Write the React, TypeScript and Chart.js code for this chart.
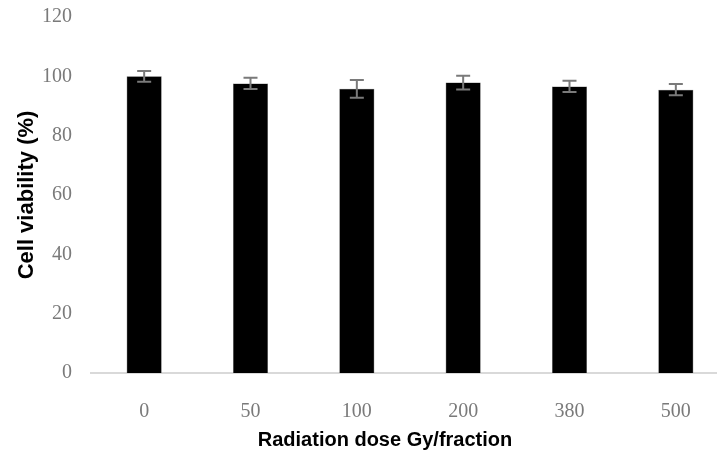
import React, { useEffect, useRef } from "react";
import { Chart, registerables } from "chart.js";

Chart.register(...registerables);

const categories = ["0", "50", "100", "200", "380", "500"];
const viability = [100, 97.6, 95.8, 97.9, 96.6, 95.5];
const errors = [1.8, 1.9, 3.0, 2.3, 1.9, 1.9];
const yTicks = [0, 20, 40, 60, 80, 100, 120];

const errorBarPlugin = {
  id: "errorBars",
  afterDatasetsDraw(chart: any) {
    const { ctx } = chart;
    const x = chart.scales.x;
    const y = chart.scales.y;
    ctx.save();
    ctx.strokeStyle = "#7a7a7a";
    ctx.lineWidth = 2;
    viability.forEach((v, i) => {
      const cx = x.getPixelForValue(i);
      const top = y.getPixelForValue(v + errors[i]);
      const bot = y.getPixelForValue(v - errors[i]);
      ctx.beginPath();
      ctx.moveTo(cx, top);
      ctx.lineTo(cx, bot);
      ctx.moveTo(cx - 7, top);
      ctx.lineTo(cx + 7, top);
      ctx.moveTo(cx - 7, bot);
      ctx.lineTo(cx + 7, bot);
      ctx.stroke();
    });
    ctx.restore();
  },
};

export default function App() {
  const ref = useRef<HTMLCanvasElement>(null);
  useEffect(() => {
    if (!ref.current) return;
    const chart = new Chart(ref.current, {
      type: "bar",
      data: {
        labels: categories,
        datasets: [
          {
            data: viability,
            backgroundColor: "#000000",
            borderColor: "#555555",
            borderWidth: 0.5,
            barPercentage: 1,
            categoryPercentage: 0.33,
          },
        ],
      },
      options: {
        animation: false,
        responsive: false,
        maintainAspectRatio: false,
        layout: { padding: { top: 17, bottom: 2, left: 0, right: 0 } },
        plugins: {
          legend: { display: false },
          tooltip: { enabled: false },
          title: {
            display: true,
            position: "bottom",
            text: "Radiation dose Gy/fraction",
            color: "#000000",
            font: { family: "'Liberation Sans', Arial, sans-serif", size: 20, weight: "bold", lineHeight: 1.2 },
            padding: { top: 0, bottom: 0 },
          },
        },
        scales: {
          x: {
            grid: { display: false, drawTicks: false },
            border: { display: true, color: "#d9d9d9", width: 2 },
            ticks: {
              color: "#7a7a7a",
              padding: 27,
              font: { family: "'Liberation Serif', 'Times New Roman', serif", size: 20 },
            },
            afterFit: (s: any) => {
              s.height = 55;
            },
          },
          y: {
            min: 0,
            max: 120,
            afterBuildTicks: (s: any) => {
              s.ticks = yTicks.map((v) => ({ value: v }));
            },
            grid: { display: false, drawTicks: false },
            border: { display: false },
            ticks: {
              color: "#7a7a7a",
              padding: 19,
              font: { family: "'Liberation Serif', 'Times New Roman', serif", size: 20 },
            },
            title: {
              display: true,
              text: "Cell viability (%)",
              color: "#000000",
              font: { family: "'Liberation Sans', Arial, sans-serif", size: 22, weight: "bold", lineHeight: 1.2 },
              padding: { top: 13.3, bottom: 0 },
            },
            afterFit: (s: any) => {
              s.width = 91;
              s.paddingTop = 0;
              s.paddingBottom = 0;
            },
          },
          yRight: {
            position: "right",
            display: true,
            grid: { display: false, drawTicks: false },
            border: { display: false },
            ticks: { display: false },
            afterFit: (s: any) => {
              s.width = 41;
              s.paddingTop = 0;
              s.paddingBottom = 0;
            },
          },
        },
      },
      plugins: [errorBarPlugin],
    });
    return () => chart.destroy();
  }, []);
  return (
    <div style={{ position: "fixed", left: 0, top: 0, width: 717, height: 454, overflow: "hidden", background: "#fff" }}>
      <div style={{ width: 770, height: 454 }}>
        <canvas ref={ref} width={770} height={454} style={{ width: 770, height: 454 }} />
      </div>
    </div>
  );
}
